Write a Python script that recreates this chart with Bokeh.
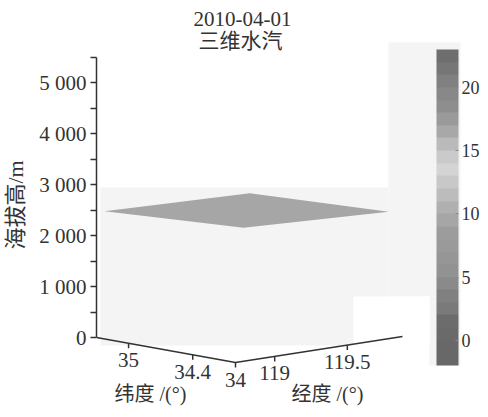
import numpy as np
from bokeh.plotting import figure
from bokeh.models import (Range1d, FixedTicker, LinearColorMapper, ColorBar,
                          ColumnDataSource, Label)
from bokeh.embed import file_html
from bokeh.resources import INLINE
from bokeh.core.properties import value

# ---------------- data ----------------
TITLE_DATE = "2010-04-01"
TITLE_VAR = "三维水汽"
Z_LABEL = "海拔高/m"
LAT_LABEL = "纬度 /(°)"
LON_LABEL = "经度 /(°)"

HEIGHT_TICKS = [0, 1000, 2000, 3000, 4000, 5000]
HEIGHT_MINOR = [500, 1500, 2500, 3500, 4500, 5500]
HEIGHT_LABELS = ["0", "1 000", "2 000", "3 000", "4 000", "5 000"]
HEIGHT_MAX = 5500

LAT_RANGE = [34.0, 35.3]
LON_RANGE = [118.73, 119.88]
LAT_TICKS = [35.0, 34.4, 34.0]
LAT_TICK_LABELS = ["35", "34.4", "34"]
LON_TICKS = [119.0, 119.5]
LON_TICK_LABELS = ["119", "119.5"]

# water-vapour layer surface: corner lon/lat and heights [lon_i][lat_j]
LAYER_LON = [118.785, 119.785]
LAYER_LAT = [34.0, 35.3]
LAYER_HEIGHT = [[2620, 2450], [2490, 2360]]
LAYER_Q = 9.8

CBAR_LOW, CBAR_HIGH = -2, 23
CBAR_TICKS = [0, 5, 10, 15, 20]
GRAYS = ["#686868", "#686868", "#6a6a6a", "#6c6c6c", "#7a7a7a", "#808080",
         "#8a8a8a", "#929292", "#969696", "#9a9a9a", "#9c9c9c", "#a6a6a6",
         "#b0b0b0", "#bcbcbc", "#c8c8c8", "#d4d4d4", "#cacaca", "#bababa",
         "#a8a8a8", "#9a9a9a", "#8e8e8e", "#888888", "#808080", "#767676",
         "#6e6e6e"]

# ---------------- layout / projection (figure pixels) ----------------
ORIGIN_X, ORIGIN_Y = 235.0, 362.0       # (lon min, lat min, 0 m)
LON_VEC = (167.0, -26.0)
LAT_VEC = (-139.0, -25.0)
PX_PER_M = 0.051
Z0_PAGE = ORIGIN_Y + LAT_VEC[1]         # pixel y of 0 m on the vertical axis
TEXT = "#333333"
SERIF = "Liberation Serif"
MIXED = "Liberation Serif, Noto Sans CJK SC"


def z_of_page(y):
    return (Z0_PAGE - np.asarray(y, dtype=float)) / PX_PER_M


def proj(lon, lat, h):
    lon = np.asarray(lon, dtype=float)
    lat = np.asarray(lat, dtype=float)
    h = np.asarray(h, dtype=float)
    u = (lon - LON_RANGE[0]) / (LON_RANGE[1] - LON_RANGE[0])
    v = (lat - LAT_RANGE[0]) / (LAT_RANGE[1] - LAT_RANGE[0])
    x = ORIGIN_X + LON_VEC[0] * u + LAT_VEC[0] * v
    yg = ORIGIN_Y + LON_VEC[1] * u + LAT_VEC[1] * v
    return x, z_of_page(yg) + h


W, H = 480, 409
FRAME_LEFT = 96
p = figure(width=W, height=H, output_backend="svg", toolbar_location=None,
           x_range=Range1d(FRAME_LEFT, W),
           y_range=Range1d(float(z_of_page(H)), float(z_of_page(0))),
           x_axis_location=None, y_axis_location="left",
           min_border_left=FRAME_LEFT, min_border_right=0,
           min_border_top=0, min_border_bottom=0,
           outline_line_color=None, background_fill_color="white")
p.grid.visible = False

# backdrop panels of the rendered volume (pixels: left, right, top, bottom)
PANELS = [(100, 388, 187, 345, "#f4f4f4"),
          (388, 460, 42, 296, "#f4f4f4"),
          (429, 460, 296, 365, "#f4f4f4"),
          (353, 429, 296, 345, "#ffffff")]
for l, r, t, b, c in PANELS:
    p.quad(left=l, right=r, top=float(z_of_page(t)), bottom=float(z_of_page(b)),
           fill_color=c, line_color=None)

mapper = LinearColorMapper(palette=GRAYS, low=CBAR_LOW, high=CBAR_HIGH)

# layer surface
corners = [(0, 0), (1, 0), (1, 1), (0, 1)]
lx, lz = proj([LAYER_LON[i] for i, j in corners],
              [LAYER_LAT[j] for i, j in corners],
              [LAYER_HEIGHT[i][j] for i, j in corners])
layer_src = ColumnDataSource(dict(xs=[list(lx)], ys=[list(lz)], q=[LAYER_Q]))
p.patches("xs", "ys", source=layer_src,
          fill_color={"field": "q", "transform": mapper}, line_color=None)

# vertical axis
ax = p.yaxis[0]
ax.ticker = FixedTicker(ticks=HEIGHT_TICKS, minor_ticks=HEIGHT_MINOR)
ax.bounds = (0, HEIGHT_MAX)
ax.major_label_overrides = {t: s for t, s in zip(HEIGHT_TICKS, HEIGHT_LABELS)}
ax.axis_line_color = TEXT
ax.axis_line_width = 1.5
ax.major_tick_line_color = TEXT
ax.major_tick_line_width = 1.5
ax.minor_tick_line_color = TEXT
ax.minor_tick_line_width = 1.5
ax.major_tick_out = 6
ax.major_tick_in = 0
ax.minor_tick_out = 6
ax.minor_tick_in = 0
ax.major_label_text_font = SERIF
ax.major_label_text_font_size = "21px"
ax.major_label_text_color = TEXT
ax.major_label_standoff = 4
ax.axis_label = Z_LABEL
ax.axis_label_text_font = MIXED
ax.axis_label_text_font_size = "22px"
ax.axis_label_text_font_style = "normal"
ax.axis_label_text_color = TEXT
ax.axis_label_standoff = 8

# base axes (latitude and longitude)
bx, bz = proj([LON_RANGE[0], LON_RANGE[0], LON_RANGE[1]],
              [LAT_RANGE[1], LAT_RANGE[0], LAT_RANGE[0]], [0, 0, 0])
p.line(bx, bz, line_color=TEXT, line_width=1.5)

TICK_LEN = 5 / PX_PER_M
tx1, tz1 = proj([LON_RANGE[0]] * len(LAT_TICKS), LAT_TICKS, [0] * len(LAT_TICKS))
tx2, tz2 = proj(LON_TICKS, [LAT_RANGE[0]] * len(LON_TICKS), [0] * len(LON_TICKS))
tx = np.concatenate([tx1, tx2])
tz = np.concatenate([tz1, tz2])
p.segment(x0=tx, y0=tz, x1=tx, y1=tz - TICK_LEN, line_color=TEXT, line_width=1.5)
p.text(x=tx, y=tz, text=LAT_TICK_LABELS + LON_TICK_LABELS,
       text_font=value(SERIF), text_font_size="21px", text_color=TEXT,
       text_align="center", text_baseline="middle", y_offset=17)

# axis titles and figure title
for txt, x, y, size in [(LAT_LABEL, 150, 393, "20px"), (LON_LABEL, 327, 393, "20px"),
                        (TITLE_DATE, 242, 18, "21px"), (TITLE_VAR, 240, 40, "21px")]:
    p.add_layout(Label(x=x, y=float(z_of_page(y)), text=txt, text_font=MIXED,
                       text_font_size=size, text_color=TEXT,
                       text_align="center", text_baseline="middle"))

# colour bar
cb = ColorBar(color_mapper=mapper, ticker=FixedTicker(ticks=CBAR_TICKS),
              location=(436 - FRAME_LEFT, H - 365), width=22, height=316,
              padding=0, margin=0, label_standoff=3,
              major_label_text_font=SERIF, major_label_text_font_size="18px",
              major_label_text_color=TEXT, major_tick_line_color="#8a8a8a",
              major_tick_in=3, major_tick_out=0, minor_tick_line_color=None,
              bar_line_color=None, background_fill_alpha=0, border_line_color=None)
p.add_layout(cb)

open("out.html", "w").write(file_html(p, INLINE))
